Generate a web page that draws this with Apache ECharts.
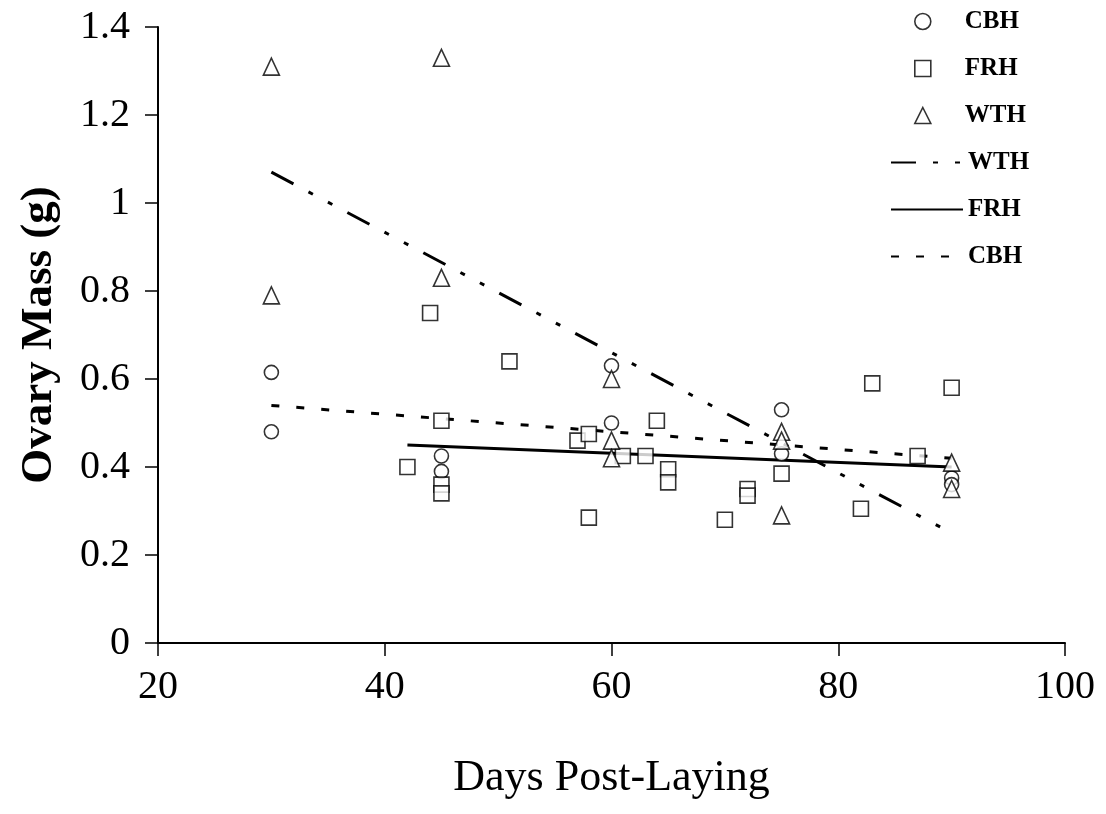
<!DOCTYPE html>
<html>
<head>
<meta charset="utf-8">
<script src="https://cdn.jsdelivr.net/npm/echarts@6/dist/echarts.min.js"></script>
<style>html,body{margin:0;padding:0;background:#fff}#c{width:1106px;height:814px}</style>
</head>
<body>
<div id="c"></div>
<script>
var xTicks = [20, 40, 60, 80, 100];
var yTicks = [0, 0.2, 0.4, 0.6, 0.8, 1, 1.2, 1.4];

var cbhPoints = [[30,0.615],[30,0.48],[45,0.425],[45,0.39],[60,0.63],[60,0.50],[75,0.53],[75,0.43],[90,0.375],[90,0.36]];
var frhPoints = [[42,0.40],[44,0.75],[45,0.505],[45,0.36],[45,0.34],[51,0.64],[57,0.46],[58,0.475],[58,0.285],[61,0.425],[63,0.425],[64,0.505],[65,0.395],[65,0.365],[70,0.28],[72,0.35],[72,0.335],[75,0.385],[82,0.305],[83,0.59],[87,0.425],[90,0.58]];
var wthPoints = [[30,1.31],[30,0.79],[45,1.33],[45,0.83],[60,0.60],[60,0.46],[60,0.42],[75,0.48],[75,0.46],[75,0.29],[90,0.41],[90,0.35]];

var wthTrend = [[30,1.07],[90,0.25]];
var frhTrend = [[42,0.45],[90,0.40]];
var cbhTrend = [[30,0.54],[90,0.42]];

var FONT = 'Liberation Serif';
var markerStyle = {color:'#fff', borderColor:'#000', borderWidth:1.6};
var legendText = {fontFamily:FONT, fontWeight:'bold', fontSize:25, color:'#000'};

var chart = echarts.init(document.getElementById('c'));
chart.setOption({
  animation:false,
  backgroundColor:'#fff',
  grid:{left:158, right:41, top:27, bottom:171, containLabel:false},
  legend:[
    {
      orient:'vertical', left:909, top:4, itemWidth:16, itemHeight:16, itemGap:22,
      data:[{name:'CBH', icon:'circle'},{name:'FRH', icon:'rect'},{name:'WTH', icon:'triangle'}],
      textStyle:Object.assign({padding:[0,0,0,29]}, legendText),
      itemStyle:{color:'#fff', borderColor:'#000', borderWidth:1.6}
    },
    {
      orient:'vertical', left:885, top:145, itemWidth:72, itemHeight:16, itemGap:22,
      data:[{name:'WTH ', itemStyle:{opacity:0}},{name:'FRH ', itemStyle:{opacity:0}},{name:'CBH ', itemStyle:{opacity:0}}],
      formatter:function(n){return n.trim();},
      textStyle:legendText
    }
  ],
  xAxis:{
    type:'value', min:xTicks[0], max:xTicks[xTicks.length-1], interval:20,
    name:'Days Post-Laying', nameLocation:'middle', nameGap:113,
    nameTextStyle:{fontFamily:FONT, fontSize:44, color:'#000'},
    axisLine:{lineStyle:{color:'#000', width:2}},
    axisTick:{inside:false, length:13, lineStyle:{color:'#000', width:1.5}},
    axisLabel:{fontFamily:FONT, fontSize:40, color:'#000', margin:24},
    splitLine:{show:false}
  },
  yAxis:{
    type:'value', min:yTicks[0], max:yTicks[yTicks.length-1], interval:0.2,
    name:'Ovary Mass (g)', nameLocation:'middle', nameGap:96,
    nameTextStyle:{fontFamily:FONT, fontSize:45, fontWeight:'bold', color:'#000'},
    axisLine:{show:true, lineStyle:{color:'#000', width:2}},
    axisTick:{show:true, inside:false, length:13, lineStyle:{color:'#000', width:1.5}},
    axisLabel:{fontFamily:FONT, fontSize:40, color:'#000', margin:28},
    splitLine:{show:false}
  },
  series:[
    {name:'WTH ', type:'line', data:wthTrend, symbol:'none', lineStyle:{color:'#000', width:3, type:[25,17,5,17,5,17]}, itemStyle:{color:'#000'}, z:1},
    {name:'FRH ', type:'line', data:frhTrend, symbol:'none', lineStyle:{color:'#000', width:3, type:'solid'}, itemStyle:{color:'#000'}, z:1},
    {name:'CBH ', type:'line', data:cbhTrend, symbol:'none', lineStyle:{color:'#000', width:3, type:[8,17]}, itemStyle:{color:'#000'}, z:1},
    {name:'CBH', type:'scatter', data:cbhPoints, symbol:'circle', symbolSize:14, itemStyle:markerStyle, z:2},
    {name:'FRH', type:'scatter', data:frhPoints, symbol:'rect', symbolSize:15, itemStyle:markerStyle, z:2},
    {name:'WTH', type:'scatter', data:wthPoints, symbol:'triangle', symbolSize:[16,17], itemStyle:markerStyle, z:2}
  ]
});
</script>
</body>
</html>
